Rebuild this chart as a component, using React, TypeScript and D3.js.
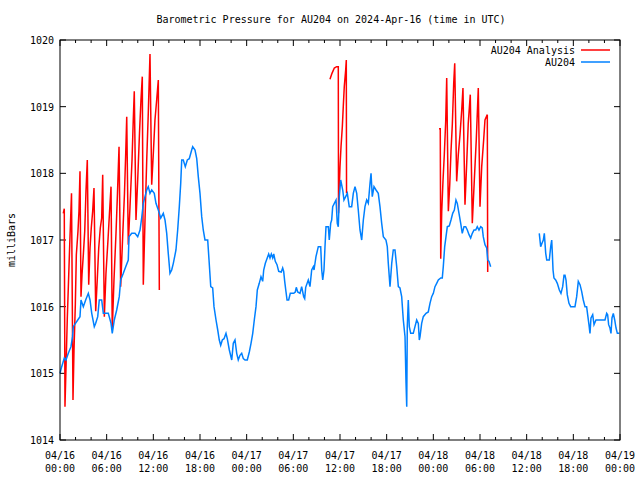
import React from "react";
import * as d3 from "d3";

// ---- Data (hours since 2024-04-16 00:00 UTC, pressure in mbar) ----
const auHours = [
  0, 0.22, 0.55, 0.77, 1.07, 1.41, 1.61, 1.71, 1.99, 2.28, 2.57, 2.7, 3.0, 3.3, 3.64, 3.86, 4.08, 4.41, 4.59, 4.85,
  5.05, 5.36, 5.57, 6.21, 6.56, 6.72, 6.98, 7.29, 7.62, 7.8, 8.14, 8.45, 8.78, 8.87, 9.22, 9.64, 9.99, 10.29, 10.5, 10.71,
  10.93, 11.15, 11.35, 11.57, 11.79, 12.12, 12.34, 12.64, 12.95, 13.28, 13.5, 13.72, 13.92, 14.14, 14.36, 14.57, 14.91, 15.13, 15.34, 15.52,
  15.65, 15.85, 16.11, 16.37, 16.62, 16.93, 17.06, 17.36, 17.58, 17.78, 18.0, 18.22, 18.42, 18.64, 18.99, 19.16, 19.38, 19.63, 19.8, 20.06,
  20.28, 20.48, 20.66, 20.87, 21.09, 21.34, 21.51, 21.77, 22.08, 22.28, 22.5, 22.72, 22.92, 23.14, 23.36, 23.57, 23.79, 24.08, 24.34, 24.56,
  24.78, 24.98, 25.2, 25.37, 25.62, 25.84, 26.06, 26.19, 26.4, 26.83, 27.0, 27.17, 27.35, 27.48, 27.68, 27.9, 28.12, 28.45, 28.63, 28.76,
  28.89, 29.06, 29.19, 29.4, 29.61, 30.05, 30.25, 30.38, 30.56, 30.86, 31.07, 31.33, 31.46, 31.59, 31.92, 32.14, 32.36, 32.57, 32.66, 32.91,
  33.21, 33.52, 33.65, 33.78, 33.94, 34.07, 34.2, 34.5, 34.62, 34.8, 34.93, 35.06, 35.27, 35.49, 35.65, 35.78, 35.91, 36.09, 36.35, 36.51,
  36.73, 36.94, 37.19, 37.5, 37.71, 37.93, 38.15, 38.35, 38.57, 38.79, 39.0, 39.21, 39.43, 39.64, 39.86, 39.99, 40.15, 40.37, 40.63, 40.92,
  41.14, 41.36, 41.57, 41.91, 42.08, 42.21, 42.43, 42.65, 42.85, 43.07, 43.29, 43.5, 43.71, 43.93, 44.14, 44.36, 44.49, 44.58, 44.65, 44.78,
  44.91, 45.09, 45.42, 45.64, 45.86, 46.07, 46.2, 46.29, 46.5, 46.71, 47.06, 47.35, 47.57, 47.79, 48.0, 48.21, 48.43, 48.64, 48.95, 49.15,
  49.28, 49.46, 49.63, 49.8, 50.05, 50.27, 50.49, 50.7, 50.91, 51.08, 51.3, 51.52, 51.72, 51.94, 52.16, 52.37, 52.59, 52.8, 53.01, 53.23,
  53.45, 53.65, 53.87, 54.09, 54.29, 54.42, 54.64, 54.86, 54.99, 55.16, 55.37,
  58.5,
  61.62, 61.8, 61.97, 62.14, 62.27, 62.45, 62.58, 62.91, 63.09, 63.22, 63.3, 63.39, 63.51, 63.73, 63.94, 64.2, 64.41, 64.63, 64.8, 64.93,
  65.06, 65.22, 65.44, 65.66, 66.21, 66.43, 66.64, 66.86, 67.07, 67.28, 67.5, 67.71, 67.84, 68.01, 68.14, 68.27, 68.49, 68.66, 68.91, 70.07,
  70.29, 70.41, 70.54, 70.71, 70.84, 70.97, 71.14, 71.32, 71.49, 71.66, 71.91,
];
const auValues: (number | null)[] = [
  1015.0, 1015.1, 1015.23, 1015.2, 1015.3, 1015.4, 1015.55, 1015.7, 1015.75, 1015.8, 1015.85, 1016.1, 1016.0, 1016.1, 1016.2, 1016.1, 1015.9, 1015.7, 1015.75, 1015.85,
  1016.1, 1016.1, 1015.9, 1015.9, 1015.75, 1015.6, 1015.8, 1015.95, 1016.15, 1016.4, 1016.5, 1016.6, 1016.7, 1017.05, 1017.1, 1017.1, 1017.05, 1017.15, 1017.33, 1017.55,
  1017.65, 1017.75, 1017.8, 1017.7, 1017.75, 1017.7, 1017.55, 1017.45, 1017.33, 1017.4, 1017.3, 1017.1, 1016.8, 1016.5, 1016.55, 1016.65, 1016.85, 1017.15, 1017.5, 1017.85,
  1018.2, 1018.2, 1018.1, 1018.2, 1018.22, 1018.35, 1018.4, 1018.35, 1018.22, 1017.95, 1017.7, 1017.35, 1017.15, 1017.0, 1017.0, 1016.7, 1016.3, 1016.28, 1016.0, 1015.8,
  1015.65, 1015.5, 1015.42, 1015.5, 1015.52, 1015.6, 1015.52, 1015.35, 1015.2, 1015.45, 1015.5, 1015.3, 1015.2, 1015.27, 1015.3, 1015.22, 1015.2, 1015.2, 1015.32, 1015.45,
  1015.6, 1015.8, 1016.0, 1016.25, 1016.35, 1016.45, 1016.38, 1016.55, 1016.65, 1016.79, 1016.73, 1016.79, 1016.73, 1016.79, 1016.68, 1016.63, 1016.53, 1016.52, 1016.58, 1016.53,
  1016.38, 1016.22, 1016.1, 1016.1, 1016.2, 1016.2, 1016.22, 1016.29, 1016.22, 1016.2, 1016.3, 1016.15, 1016.12, 1016.29, 1016.4, 1016.3, 1016.55, 1016.6, 1016.55, 1016.75,
  1016.9, 1016.9, 1016.55, 1016.4, 1016.55, 1016.9, 1017.2, 1017.2, 1017.0, 1017.25, 1017.3, 1017.5, 1017.55, 1017.6, 1017.25, 1017.2, 1017.65, 1017.9, 1017.75, 1017.6,
  1017.65, 1017.7, 1017.5, 1017.5, 1017.7, 1017.8, 1017.7, 1017.45, 1017.15, 1017.0, 1017.3, 1017.5, 1017.6, 1017.55, 1017.85, 1018.0, 1017.65, 1017.8, 1017.75, 1017.7,
  1017.5, 1017.25, 1017.05, 1017.0, 1016.9, 1016.65, 1016.3, 1016.65, 1016.85, 1016.85, 1016.6, 1016.3, 1016.28, 1016.15, 1015.8, 1015.55, 1014.85, 1014.5, 1015.7, 1016.1,
  1015.7, 1015.6, 1015.6, 1015.7, 1015.8, 1015.75, 1015.5, 1015.55, 1015.75, 1015.85, 1015.9, 1015.92, 1016.05, 1016.15, 1016.2, 1016.3, 1016.35, 1016.4, 1016.43, 1016.43,
  1016.6, 1016.9, 1017.05, 1017.2, 1017.21, 1017.3, 1017.4, 1017.45, 1017.6, 1017.55, 1017.4, 1017.25, 1017.1, 1017.2, 1017.2, 1017.15, 1017.08, 1017.03, 1017.1, 1017.15,
  1017.15, 1017.2, 1017.15, 1017.2, 1017.18, 1017.05, 1016.93, 1016.88, 1016.7, 1016.68, 1016.6,
  null,
  1017.1, 1016.9, 1016.95, 1017.0, 1017.1, 1016.8, 1016.7, 1016.7, 1016.9, 1017.0, 1016.8, 1016.55, 1016.43, 1016.4, 1016.35, 1016.25, 1016.2, 1016.3, 1016.47, 1016.47,
  1016.4, 1016.18, 1016.05, 1016.0, 1016.0, 1016.15, 1016.38, 1016.33, 1016.23, 1016.1, 1016.0, 1016.0, 1015.88, 1015.73, 1015.6, 1015.83, 1015.88, 1015.73, 1015.8, 1015.8,
  1015.9, 1015.88, 1015.73, 1015.68, 1015.6, 1015.83, 1015.9, 1015.8, 1015.68, 1015.6, 1015.6,
];

const anHours = [
  0.42, 0.55, 0.64, 0.94, 1.25, 1.48, 1.67, 1.8, 1.97, 2.1, 2.31, 2.44, 2.57, 2.7, 2.83, 3.0, 3.18, 3.34, 3.51, 3.69,
  3.86, 4.02, 4.2, 4.37, 4.59, 4.8, 4.98, 5.18, 5.36, 5.49, 5.7, 5.91, 6.17, 6.36, 6.56, 6.72, 6.94, 7.2, 7.39, 7.59,
  7.8, 8.04, 8.29, 8.45, 8.58, 8.78, 9.0, 9.26, 9.42, 9.55, 9.77, 9.99, 10.22, 10.41, 10.58, 10.71, 10.93, 11.15, 11.35, 11.57,
  11.79, 12.0, 12.21, 12.43, 12.64, 12.77,
  20,
  34.71, 34.97, 35.27, 35.57, 35.78, 35.81, 35.91, 36.0, 36.13, 36.3, 36.42, 36.55, 36.73, 36.81, 36.84,
  42,
  48.73, 48.89, 48.95, 49.08, 49.24, 49.41, 49.59, 49.72, 49.93, 50.11, 50.27, 50.44, 50.62, 50.75, 51.0, 51.21, 51.43, 51.65, 51.81, 52.07,
  52.29, 52.49, 52.75, 53.01, 53.27, 53.52, 53.78, 54.0, 54.22, 54.47, 54.64, 54.94, 54.99,
];
const anValues: (number | null)[] = [
  1017.4, 1017.47, 1014.5, 1015.83, 1016.93, 1017.7, 1014.6, 1015.35, 1016.03, 1016.78, 1017.13, 1017.43, 1018.03, 1016.15, 1016.48, 1016.78, 1017.13, 1017.73, 1018.2, 1016.33,
  1016.88, 1017.18, 1017.43, 1017.78, 1015.93, 1016.43, 1016.88, 1017.18, 1017.33, 1017.98, 1015.85, 1016.5, 1017.0, 1017.4, 1017.8, 1015.65, 1016.4, 1017.1, 1017.7, 1018.4,
  1016.3, 1017.0, 1017.7, 1018.3, 1018.85, 1016.93, 1017.5, 1018.2, 1018.8, 1019.23, 1017.3, 1017.9, 1018.6, 1019.1, 1019.45, 1016.33, 1017.3, 1018.2, 1018.9, 1019.79,
  1017.83, 1018.3, 1018.8, 1019.1, 1019.4, 1016.25,
  null,
  1019.41, 1019.5, 1019.58, 1019.6, 1019.6, 1017.4, 1017.8, 1018.1, 1018.4, 1018.7, 1019.0, 1019.3, 1019.55, 1019.7, 1017.7,
  null,
  1018.67, 1018.67, 1016.72, 1017.43, 1017.88, 1018.28, 1018.78, 1019.43, 1017.43, 1017.83, 1018.33, 1018.73, 1019.35, 1019.65, 1017.88, 1018.28, 1018.58, 1018.95, 1019.28, 1017.53,
  1018.15, 1018.75, 1019.18, 1017.25, 1017.9, 1018.5, 1019.28, 1017.5, 1018.1, 1018.5, 1018.8, 1018.88, 1016.52,
];

const xTickHours = [0, 6, 12, 18, 24, 30, 36, 42, 48, 54, 60, 66, 72];
const xTickDates = ["04/16", "04/16", "04/16", "04/16", "04/17", "04/17", "04/17", "04/17", "04/18", "04/18", "04/18", "04/18", "04/19"];
const xTickTimes = ["00:00", "06:00", "12:00", "18:00", "00:00", "06:00", "12:00", "18:00", "00:00", "06:00", "12:00", "18:00", "00:00"];
const yTicks = [1014, 1015, 1016, 1017, 1018, 1019, 1020];

const titleText = "Barometric Pressure for AU204 on 2024-Apr-16 (time in UTC)";
const yLabel = "milliBars";
const seriesNames = ["AU204 Analysis", "AU204"];
const seriesColors = ["#ff0000", "#0080ff"];

const W = 640, H = 480;
const M = { left: 60, right: 620, top: 40, bottom: 440 };
const FONT = "'DejaVu Sans Mono', 'Liberation Mono', monospace";

export default function App() {
  const x = d3.scaleLinear().domain([0, 72]).range([M.left, M.right]);
  const y = d3.scaleLinear().domain([1014, 1020]).range([M.bottom, M.top]);

  const toPts = (hs: number[], vs: (number | null)[]) => hs.map((h, i) => [h, vs[i]] as [number, number | null]);
  const line = d3
    .line<[number, number | null]>()
    .defined((d) => d[1] !== null)
    .x((d) => x(d[0]))
    .y((d) => y(d[1] as number));

  const anPath = line(toPts(anHours, anValues)) || "";
  const auPath = line(toPts(auHours, auValues)) || "";

  const minorHours = d3.range(0, 73, 2).filter((h) => h % 6 !== 0);
  const MAJ = 6, MIN = 3;

  return (
    <svg width={W} height={H} style={{ position: "absolute", left: 0, top: 0, background: "#fff" }} fontFamily={FONT} fontSize={10}>
      <rect x={0} y={0} width={W} height={H} fill="#fff" />
      <text x={331} y={23} textAnchor="middle" fill="#000">{titleText}</text>
      <text transform={`translate(15,240) rotate(-90)`} textAnchor="middle" fill="#000">{yLabel}</text>

      {/* y ticks */}
      {yTicks.map((v) => (
        <g key={"y" + v}>
          <line x1={M.left} x2={M.left + MAJ} y1={y(v)} y2={y(v)} stroke="#000" />
          <line x1={M.right} x2={M.right - MAJ} y1={y(v)} y2={y(v)} stroke="#000" />
          <text x={54} y={y(v) + 4} textAnchor="end" fill="#000">{v}</text>
        </g>
      ))}
      {/* x ticks */}
      {xTickHours.map((h, i) => (
        <g key={"x" + h}>
          <line x1={x(h)} x2={x(h)} y1={M.bottom} y2={M.bottom - MAJ} stroke="#000" />
          <line x1={x(h)} x2={x(h)} y1={M.top} y2={M.top + MAJ} stroke="#000" />
          <text x={x(h)} y={459} textAnchor="middle" fill="#000">{xTickDates[i]}</text>
          <text x={x(h)} y={472} textAnchor="middle" fill="#000">{xTickTimes[i]}</text>
        </g>
      ))}
      {minorHours.map((h) => (
        <g key={"m" + h}>
          <line x1={x(h)} x2={x(h)} y1={M.bottom} y2={M.bottom - MIN} stroke="#000" />
          <line x1={x(h)} x2={x(h)} y1={M.top} y2={M.top + MIN} stroke="#000" />
        </g>
      ))}

      {/* series */}
      <path d={anPath} fill="none" stroke={seriesColors[0]} strokeWidth={1.5} />
      <path d={auPath} fill="none" stroke={seriesColors[1]} strokeWidth={1.5} />

      {/* legend */}
      <text x={575} y={54} textAnchor="end" fill="#000">{seriesNames[0]}</text>
      <line x1={581} x2={610} y1={50} y2={50} stroke={seriesColors[0]} strokeWidth={1.5} />
      <text x={575} y={66} textAnchor="end" fill="#000">{seriesNames[1]}</text>
      <line x1={581} x2={610} y1={62} y2={62} stroke={seriesColors[1]} strokeWidth={1.5} />

      {/* frame */}
      <rect x={M.left} y={M.top} width={M.right - M.left} height={M.bottom - M.top} fill="none" stroke="#000" />
    </svg>
  );
}
